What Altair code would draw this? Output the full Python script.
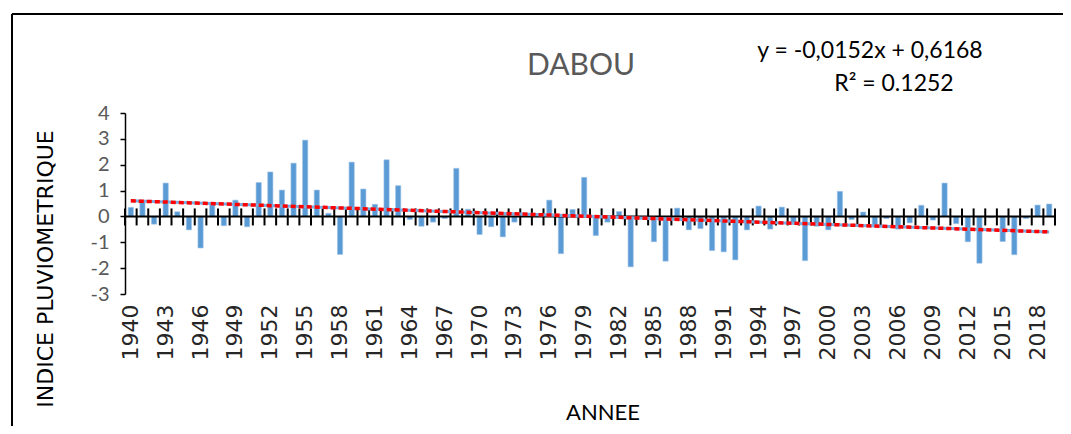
import altair as alt
import pandas as pd

years = [str(y) for y in range(1940, 2020)]
values = [
    0.35, 0.60, -0.30, 1.29, 0.18, -0.52, -1.22, 0.45, -0.36, 0.63,
    -0.40, 1.31, 1.72, 1.02, 2.06, 2.95, 1.02, 0.12, -1.47, 2.10,
    1.06, 0.47, 2.19, 1.19, -0.12, -0.38, -0.22, -0.08, 1.86, 0.28,
    -0.70, -0.40, -0.79, -0.22, 0.05, 0.05, 0.63, -1.44, 0.27, 1.51,
    -0.74, -0.22, 0.19, -1.95, -0.10, -0.98, -1.73, 0.32, -0.52, -0.47,
    -1.32, -1.37, -1.68, -0.52, 0.40, -0.49, 0.36, -0.27, -1.71, -0.38,
    -0.52, 0.97, -0.12, 0.17, -0.34, -0.08, -0.49, -0.25, 0.43, -0.14,
    1.29, -0.28, -0.98, -1.81, -0.05, -0.97, -1.48, -0.08, 0.44, 0.48,
]
label_years = [str(y) for y in range(1940, 2020, 3)]
y_ticks = [-3, -2, -1, 0, 1, 2, 3, 4]

# trend line from the displayed equation y = -0,0152x + 0,6168 (x = 1..80)
slope = -0.0152
intercept = 0.6168
trend_years = [years[0], years[-1]]
trend_vals = [slope * 1 + intercept, slope * len(years) + intercept]

df = pd.DataFrame({"year": years, "value": values})
trend_df = pd.DataFrame({"year": trend_years, "value": trend_vals})
last_df = pd.DataFrame({"year": [years[-1]]})
zero_df = pd.DataFrame({"value": [0]})

W, H = 930, 181
P_IN, P_OUT = 0.55, 0.275
step = W / len(years)
half_gap = P_OUT * step
xscale = alt.Scale(domain=years, paddingInner=P_IN, paddingOuter=P_OUT)
yscale = alt.Scale(domain=[-3, 4], nice=False)
y0 = H * 4 / 7  # pixel of zero line inside the plot

x_axis = alt.Axis(values=label_years, labelAngle=-90, ticks=False, tickSize=0,
                  domain=False, labelPadding=10, labelFont="DejaVu Sans",
                  labelFontSize=22, labelColor="#262626", title=None,
                  labelOverlap=False, grid=False)
y_axis = alt.Axis(values=y_ticks, domainColor="black", domainWidth=1.5,
                  tickColor="black", tickSize=5, tickWidth=1.5,
                  labelFont="Lato", labelFontSize=20, labelColor="#595959",
                  labelPadding=11, labelExpr="toString(datum.value)",
                  labelOverlap=False, grid=False, title=None)

X = dict(scale=xscale, sort=years, axis=x_axis)
Y = dict(scale=yscale, axis=y_axis)

bars = alt.Chart(df).mark_bar(color="#5B9BD5", stroke="#9DC3E6", strokeWidth=0.6).encode(
    x=alt.X("year:N", **X),
    y=alt.Y("value:Q", **Y),
)

cross_ticks = alt.Chart(df).mark_rule(color="black", strokeWidth=2, xOffset=-half_gap).encode(
    x=alt.X("year:N", bandPosition=0, **X),
    y=alt.value(y0 - 8), y2=alt.value(y0 + 9),
)
cross_tick_end = alt.Chart(last_df).mark_rule(color="black", strokeWidth=2, xOffset=half_gap).encode(
    x=alt.X("year:N", bandPosition=1, **X),
    y=alt.value(y0 - 8), y2=alt.value(y0 + 9),
)

zero = alt.Chart(zero_df).mark_rule(color="black", strokeWidth=2).encode(
    y=alt.Y("value:Q", **Y)
)

trend_blue = alt.Chart(trend_df).mark_line(color="#7aaee0", strokeWidth=3).encode(
    x=alt.X("year:N", **X),
    y=alt.Y("value:Q", **Y),
)
trend_red = alt.Chart(trend_df).mark_line(color="#ff0000", strokeWidth=3.5, strokeDash=[5, 3]).encode(
    x=alt.X("year:N", **X),
    y=alt.Y("value:Q", **Y),
)

frame_top = alt.Chart(zero_df).mark_rule(color="black", strokeWidth=2).encode(
    x=alt.value(-113), x2=alt.value(960), y=alt.value(-99)
)
frame_left = alt.Chart(zero_df).mark_rule(color="black", strokeWidth=2).encode(
    x=alt.value(-113), y=alt.value(-99), y2=alt.value(340)
)

def txt(s, x, y, size, color, font="Lato", angle=0):
    return alt.Chart(zero_df).mark_text(
        text=s, fontSize=size, color=color, font=font, angle=angle,
        align="center", baseline="middle"
    ).encode(x=alt.value(x), y=alt.value(y))

title = txt("DABOU", 456, -47, 30, "#595959")
eq = txt("y = -0,0152x + 0,6168", 745, -62, 23, "#000000")
r2 = txt("R² = 0.1252", 769, -29, 23, "#000000")
xtitle = txt("ANNEE", 478, 300, 22, "#000000")
ytitle = txt("INDICE PLUVIOMETRIQUE", -79, 156, 22, "#000000", font="DejaVu Sans", angle=270)

chart = alt.layer(
    bars, frame_top, frame_left, zero, cross_ticks, cross_tick_end, trend_blue, trend_red,
    title, eq, r2, xtitle, ytitle
).properties(
    width=W, height=H,
    autosize=alt.AutoSizeParams(type="none"),
    padding={"left": 117, "top": 105, "right": 8, "bottom": 132},
    background="white",
).configure_view(strokeOpacity=0)

chart.save("out.html", embed_options={"renderer": "svg", "actions": False})
